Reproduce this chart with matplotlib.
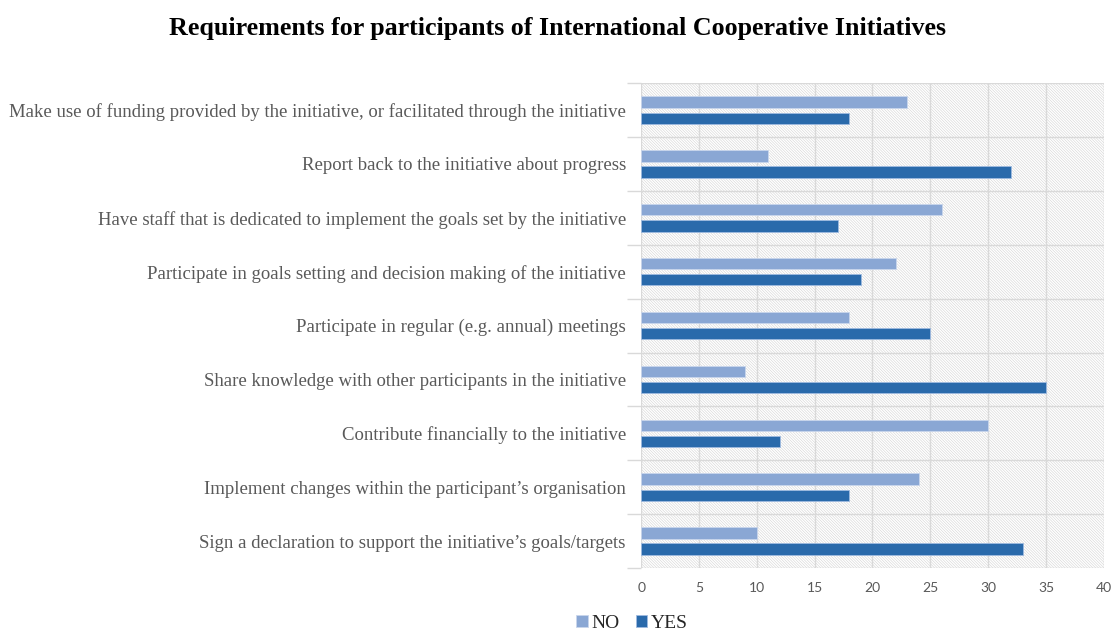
import matplotlib
matplotlib.use("Agg")
import matplotlib.pyplot as plt
import numpy as np
from matplotlib.ticker import FixedLocator
from matplotlib.patches import Rectangle

categories = [
    "Sign a declaration to support the initiative\u2019s goals/targets",
    "Implement changes within the participant\u2019s organisation",
    "Contribute financially to the initiative",
    "Share knowledge with other participants in the initiative",
    "Participate in regular (e.g. annual) meetings",
    "Participate in goals setting and decision making of the initiative",
    "Have staff that is dedicated to implement the goals set by the initiative",
    "Report back to the initiative about progress",
    "Make use of funding provided by the initiative, or facilitated through the initiative",
]
no_values = [10, 24, 30, 9, 18, 22, 26, 11, 23]
yes_values = [33, 18, 12, 35, 25, 19, 17, 32, 18]
x_ticks = [0, 5, 10, 15, 20, 25, 30, 35, 40]

NO_COLOR = "#8aa7d4"
YES_COLOR = "#2a6aab"

plt.rcParams["hatch.linewidth"] = 0.4

fig = plt.figure(figsize=(11.15, 6.35), dpi=100)
ax = fig.add_axes([0.575, 0.1055, 0.415, 0.7635])

# light diagonal texture behind the plot area
ax.add_patch(Rectangle((0, 0), 1, 1, transform=ax.transAxes, facecolor="white",
                       edgecolor="#d2d2d2", hatch="\\" * 12, linewidth=0,
                       zorder=0))

y = np.arange(len(categories))
h = 0.21
off = 0.15
ax.barh(y + off, no_values, height=h, color=NO_COLOR, edgecolor="#c9d6ec",
        linewidth=0.6, label="NO", zorder=3)
ax.barh(y - off, yes_values, height=h, color=YES_COLOR, edgecolor="#9fbbe0",
        linewidth=0.6, label="YES", zorder=3)

ax.set_xlim(0, 40)
ax.set_ylim(-0.5, len(categories) - 0.5)
ax.xaxis.set_major_locator(FixedLocator(x_ticks))
ax.set_yticks(y)
ax.set_yticklabels(categories, fontfamily="Liberation Serif", fontsize=13.5,
                   color="#595959")
ax.yaxis.set_minor_locator(FixedLocator(np.arange(-0.5, len(categories), 1)))
ax.tick_params(axis="y", which="major", length=0, pad=11)
ax.tick_params(axis="y", which="minor", length=10, color="#d9d9d9", width=1)
ax.tick_params(axis="x", length=0, labelsize=10, labelcolor="#595959", pad=10)
for lab in ax.get_xticklabels():
    lab.set_fontfamily("Lato")

ax.grid(axis="x", which="major", color="#d9d9d9", linewidth=1, zorder=1)
ax.grid(axis="y", which="minor", color="#d9d9d9", linewidth=1, zorder=1)
ax.set_axisbelow(True)
for s in ax.spines.values():
    s.set_visible(False)

fig.text(0.5, 0.955, "Requirements for participants of International Cooperative Initiatives",
         ha="center", va="center", fontfamily="Liberation Serif", fontweight="bold",
         fontsize=18.7, color="black")

handles, labels = ax.get_legend_handles_labels()
leg = fig.legend(handles, labels, loc="center", bbox_to_anchor=(0.567, 0.018),
                 ncol=2, frameon=False, handlelength=0.6, handleheight=0.6,
                 handletextpad=0.2, columnspacing=0.8,
                 prop={"family": "Liberation Serif", "size": 14})
for t in leg.get_texts():
    t.set_color("#262626")

fig.savefig("out.png", dpi=100)
